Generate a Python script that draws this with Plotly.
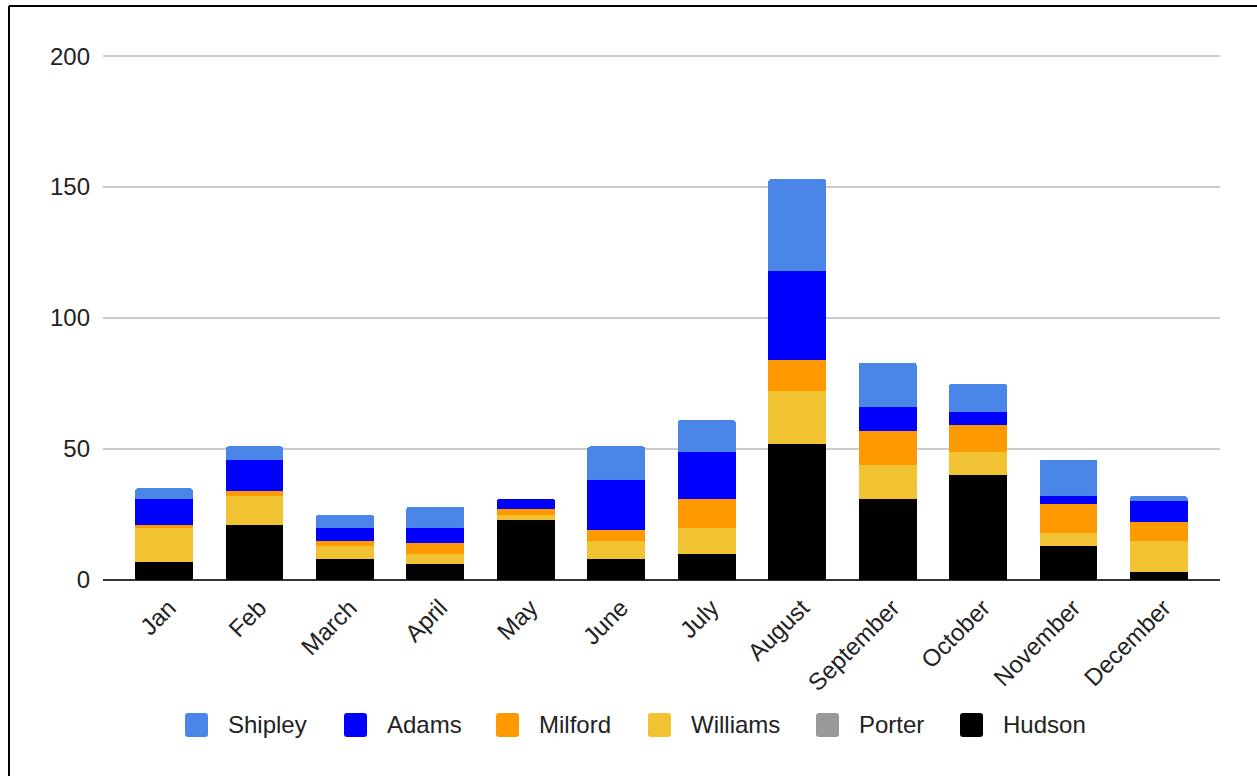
import plotly.graph_objects as go

# Monthly totals per person, stacked bottom to top
months = ["Jan", "Feb", "March", "April", "May", "June", "July", "August",
          "September", "October", "November", "December"]
hudson = [7, 21, 8, 6, 23, 8, 10, 52, 31, 40, 13, 3]
porter = [0, 0, 0, 0, 0, 0, 0, 0, 0, 0, 0, 0]
williams = [13, 11, 5, 4, 2, 7, 10, 20, 13, 9, 5, 12]
milford = [1, 2, 2, 4, 2, 4, 11, 12, 13, 10, 11, 7]
adams = [10, 12, 5, 6, 4, 19, 18, 34, 9, 5, 3, 8]
shipley = [4, 5, 5, 8, 0, 13, 12, 35, 17, 11, 14, 2]

y_ticks = [0, 50, 100, 150, 200]

series = [
    ("Hudson", hudson, "#000000"),
    ("Porter", porter, "#999999"),
    ("Williams", williams, "#f1c232"),
    ("Milford", milford, "#ff9900"),
    ("Adams", adams, "#0000ff"),
    ("Shipley", shipley, "#4a86e8"),
]

FONT = "Liberation Sans, Arial, sans-serif"
TEXT = "#222222"

fig = go.Figure()
for name, vals, color in series:
    fig.add_trace(go.Bar(
        x=months, y=vals, name=name, showlegend=False,
        marker=dict(color=color, line=dict(width=0)),
    ))

# page geometry (px)
W, H = 1257, 776
L, R, T, B = 103, 37, 54, 196
Y_TOP = 200.8
pw, ph = W - L - R, H - T - B


def px_x(p):
    return (p - L) / pw


def px_y(p):
    return (H - B - p) / ph


def rounded_box(x0, y0, x1, y1, r):
    """SVG path of a rounded rectangle, given in pixels, as paper coordinates."""
    X0, X1 = px_x(x0), px_x(x1)
    Y0, Y1 = px_y(y0), px_y(y1)  # Y0 top, Y1 bottom
    rx, ry = r / pw, r / ph
    return (f"M{X0 + rx},{Y0} L{X1 - rx},{Y0} Q{X1},{Y0} {X1},{Y0 - ry} "
            f"L{X1},{Y1 + ry} Q{X1},{Y1} {X1 - rx},{Y1} "
            f"L{X0 + rx},{Y1} Q{X0},{Y1} {X0},{Y1 + ry} "
            f"L{X0},{Y0 - ry} Q{X0},{Y0} {X0 + rx},{Y0} Z")


shapes = [
    # frame lines along the top and left edges
    dict(type="line", xref="paper", yref="paper",
         x0=px_x(9), x1=px_x(W + 5), y0=px_y(6), y1=px_y(6),
         line=dict(color="#000000", width=2)),
    dict(type="line", xref="paper", yref="paper",
         x0=px_x(9), x1=px_x(9), y0=px_y(6), y1=px_y(H + 5),
         line=dict(color="#000000", width=2)),
]
annotations = []

# legend row below the axis, top of stack first
legend_left_px = [185, 344, 496, 648, 816, 960]
LEG_Y = 725
for (name, _, color), lx in zip(reversed(series), legend_left_px):
    shapes.append(dict(
        type="path", xref="paper", yref="paper",
        path=rounded_box(lx, LEG_Y - 12, lx + 23, LEG_Y + 12, 3),
        fillcolor=color, line=dict(width=0),
    ))
    annotations.append(dict(
        xref="paper", yref="paper", x=px_x(lx + 41), y=px_y(LEG_Y - 1),
        xanchor="left", yanchor="middle", showarrow=False, text=name,
        font=dict(family=FONT, size=24, color=TEXT),
    ))

fig.update_layout(
    width=W, height=H,
    margin=dict(l=L, r=R, t=T, b=B),
    barmode="stack",
    bargap=0.36,
    barcornerradius=3,
    paper_bgcolor="#ffffff",
    plot_bgcolor="#ffffff",
    font=dict(family=FONT, size=24, color=TEXT),
    showlegend=False,
    xaxis=dict(
        range=[-0.675, 11.675],
        tickangle=-45,
        tickfont=dict(family=FONT, size=24, color=TEXT),
        showgrid=False, showline=False, zeroline=False,
        ticks="",
        ticklabelstandoff=8,
        ticklabelshift=5,
    ),
    yaxis=dict(
        range=[0, Y_TOP],
        tickvals=y_ticks,
        tickfont=dict(family=FONT, size=24, color=TEXT),
        showgrid=True, gridcolor="#cccccc", gridwidth=2,
        zeroline=True, zerolinecolor="#333333", zerolinewidth=2,
        showline=False, ticks="",
        ticklabelstandoff=12,
    ),
    shapes=shapes,
    annotations=annotations,
)

fig.write_html("out.html")
